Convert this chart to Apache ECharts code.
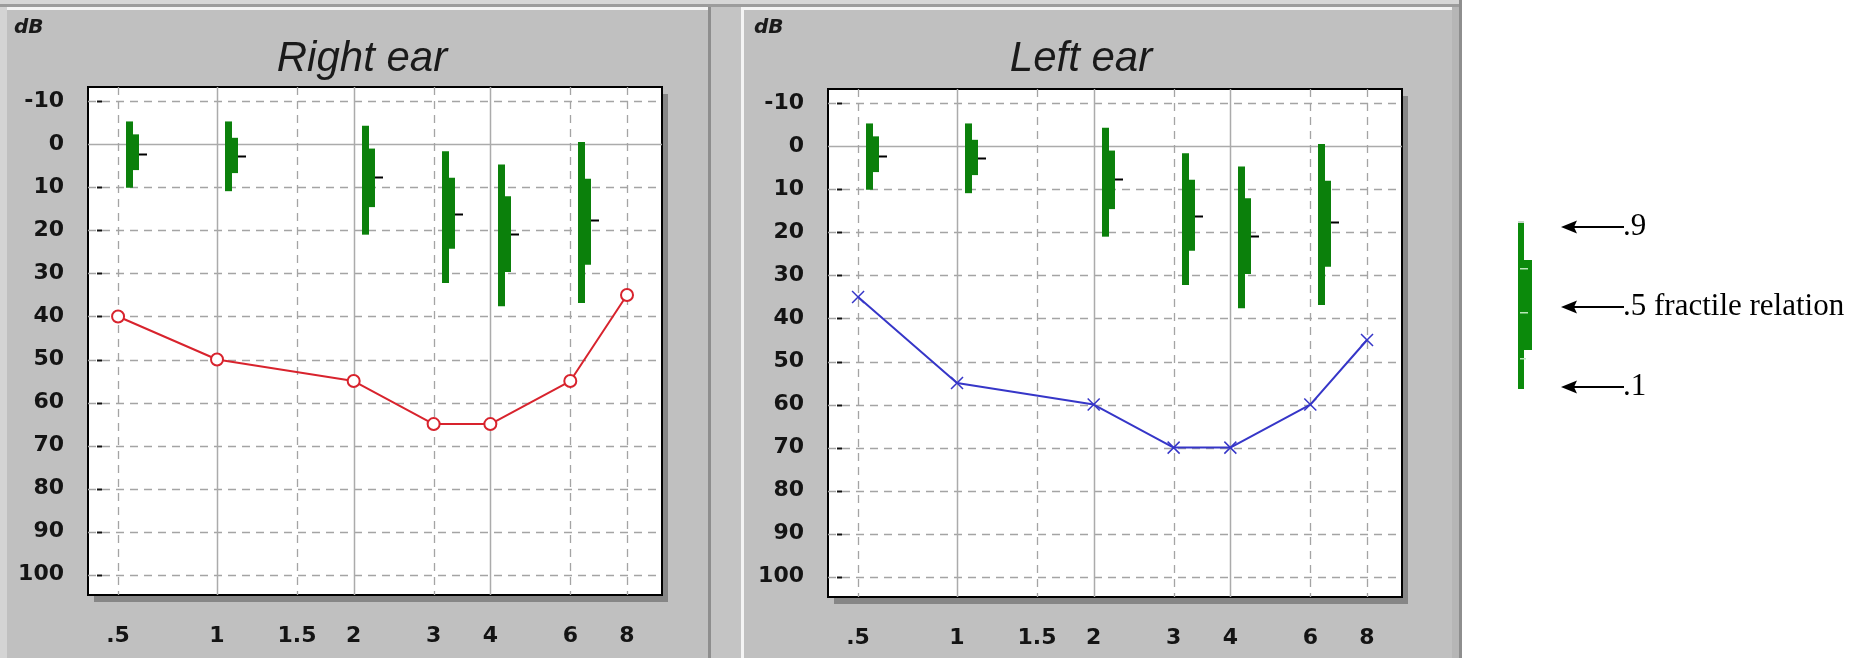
<!DOCTYPE html>
<html><head><meta charset="utf-8">
<script src="https://cdn.jsdelivr.net/npm/echarts@6/dist/echarts.min.js"></script>
<style>html,body{margin:0;padding:0;background:#fff}#c{width:1859px;height:658px}</style>
</head><body><div id="c"></div><script>
// ---- data ----
const freqLabels = ['.5', '1', '1.5', '2', '3', '4', '6', '8'];
// audiogram axis position of each frequency (octaves re 1 kHz, .5 drawn compressed as in the original)
const freqPos = [-0.724, 0, 0.585, 1, 1.585, 2, 2.585, 3];
const dbTicks = [-10, 0, 10, 20, 30, 40, 50, 60, 70, 80, 90, 100];

const thrFreqs = ['.5', '1', '2', '3', '4', '6', '8'];
const rightEar = [40, 50, 55, 65, 65, 55, 35];
const leftEar = [35, 55, 60, 70, 70, 60, 45];

const fracFreqs = ['.5', '1', '2', '3', '4', '6'];
const p90 = [-5.3, -5.3, -4.3, 1.6, 4.7, -0.5];
const p75 = [-2.3, -1.5, 1.0, 7.8, 12.1, 8.0];
const p50 = [2.2, 2.8, 7.6, 16.1, 20.9, 17.7];
const p25 = [6.0, 6.7, 14.6, 24.3, 29.7, 28.0];
const p10 = [10.1, 10.9, 21.0, 32.2, 37.6, 36.9];

const legendLabels = ['.9', '.5 fractile relation', '.1'];

// ---- helpers ----
const pos = f => freqPos[freqLabels.indexOf(f)];
const solidFreqs = ['1', '2', '4'];
const X_MIN = -0.944, X_MAX = 3.256, Y_MIN = -13.3, Y_MAX = 104.7;
const labelFont = {fontFamily: '"DejaVu Sans", Verdana, sans-serif', fontWeight: 'bold', fontSize: 22, color: '#141414'};

function hLines(gi) {
  return {
    type: 'custom', xAxisIndex: gi, yAxisIndex: gi, z: 1, silent: true,
    data: dbTicks.map(v => [0, v]), encode: {x: 0, y: 1},
    renderItem(params, api) {
      const cs = params.coordSys;
      const y = Math.round(api.coord([0, api.value(1)])[1]) + 0.5;
      const solid = api.value(1) === 0;
      const children = [{type: 'line', shape: {x1: cs.x, y1: y, x2: cs.x + cs.width, y2: y},
        style: {stroke: solid ? '#ababab' : '#a4a4a4', lineWidth: solid ? 1.5 : 1.3, lineDash: solid ? null : [8, 6]}}];
      if (!solid) children.push({type: 'line', shape: {x1: cs.x + 9, y1: y, x2: cs.x + 14, y2: y}, style: {stroke: '#111', lineWidth: 2}});
      return {type: 'group', children};
    }
  };
}
function vLines(gi) {
  return {
    type: 'custom', xAxisIndex: gi, yAxisIndex: gi, z: 1, silent: true,
    data: freqLabels.map(f => [pos(f), 0]), encode: {x: 0, y: 1},
    renderItem(params, api) {
      const cs = params.coordSys;
      const x = Math.round(api.coord([api.value(0), 0])[0]) + 0.5;
      const solid = solidFreqs.indexOf(freqLabels[params.dataIndex]) >= 0;
      return {type: 'line', shape: {x1: x, y1: cs.y, x2: x, y2: cs.y + cs.height},
        style: {stroke: solid ? '#ababab' : '#a4a4a4', lineWidth: solid ? 1.5 : 1.3, lineDash: solid ? null : [8, 6]}};
    }
  };
}
function fractiles(gi) {
  return {
    type: 'custom', xAxisIndex: gi, yAxisIndex: gi, z: 3, silent: true,
    data: fracFreqs.map((f, i) => [pos(f), p90[i], p75[i], p50[i], p25[i], p10[i]]),
    encode: {x: 0, y: [1, 5]},
    renderItem(params, api) {
      const x = Math.round(api.coord([api.value(0), 0])[0]) + 8;
      const y = k => api.coord([api.value(0), api.value(k)])[1];
      const y90 = y(1), y75 = y(2), y50 = Math.round(y(3)) + 0.5, y25 = y(4), y10 = y(5);
      return {type: 'group', children: [
        {type: 'rect', shape: {x: x, y: y90, width: 7, height: y10 - y90}, style: {fill: '#0b800b'}},
        {type: 'rect', shape: {x: x, y: y75, width: 13, height: y25 - y75}, style: {fill: '#0b800b'}},
        {type: 'line', shape: {x1: x + 13, y1: y50, x2: x + 21, y2: y50}, style: {stroke: '#000', lineWidth: 2}}
      ]};
    }
  };
}

function xAxis(gi) {
  return {
    type: 'value', gridIndex: gi, min: X_MIN, max: X_MAX,
    axisLine: {show: false}, axisTick: {show: false}, splitLine: {show: false},
    axisLabel: Object.assign({customValues: freqPos, margin: 30,
      formatter: v => { const i = freqPos.findIndex(p => Math.abs(p - v) < 1e-6); return i >= 0 ? freqLabels[i] : ''; }}, labelFont)
  };
}
function yAxis(gi) {
  return {
    type: 'value', gridIndex: gi, inverse: true, min: Y_MIN, max: Y_MAX,
    axisLine: {show: false}, axisTick: {show: false}, splitLine: {show: false},
    axisLabel: Object.assign({customValues: dbTicks, margin: 24, formatter: v => String(v)}, labelFont)
  };
}
const gridStyle = {show: true, backgroundColor: '#ffffff', borderColor: '#000', borderWidth: 2, containLabel: false};
const grids = [{left: 88, top: 87, width: 574, height: 508}, {left: 828, top: 89, width: 574, height: 508}];

// ---- decoration ----
const bg = [
  {type: 'rect', shape: {x: 0, y: 0, width: 1462, height: 658}, style: {fill: '#c0c0c0'}},
  {type: 'rect', shape: {x: 0, y: 0, width: 1462, height: 4}, style: {fill: '#d6d6d6'}},
  {type: 'rect', shape: {x: 0, y: 4, width: 1462, height: 3}, style: {fill: '#9c9c9c'}},
  {type: 'rect', shape: {x: 0, y: 7, width: 1462, height: 3}, style: {fill: '#f4f4f4'}},
  {type: 'rect', shape: {x: 0, y: 7, width: 7, height: 651}, style: {fill: '#d4d4d4'}},
  {type: 'rect', shape: {x: 708, y: 7, width: 3, height: 651}, style: {fill: '#8e8e8e'}},
  {type: 'rect', shape: {x: 711, y: 7, width: 30, height: 651}, style: {fill: '#c4c4c4'}},
  {type: 'rect', shape: {x: 741, y: 7, width: 3, height: 651}, style: {fill: '#f4f4f4'}},
  {type: 'rect', shape: {x: 1452, y: 7, width: 8, height: 651}, style: {fill: '#b6b6b6'}},
  {type: 'rect', shape: {x: 1459, y: 0, width: 3, height: 658}, style: {fill: '#8e8e8e'}}
].map(e => Object.assign(e, {z: -10, silent: true}));
// drop shadows behind the two plot frames
grids.forEach(g => bg.push({type: 'rect', z: -5, silent: true,
  shape: {x: g.left + 6, y: g.top + 7, width: g.width, height: g.height}, style: {fill: '#868686'}}));

const texts = [
  {x: 14, y: 28, text: 'dB', font: 'italic bold 20px "DejaVu Sans", Verdana'},
  {x: 754, y: 28, text: 'dB', font: 'italic bold 20px "DejaVu Sans", Verdana'},
  {x: 362, y: 59, text: 'Right ear', font: 'italic 42px "Liberation Sans", Arial', align: 'center'},
  {x: 1081, y: 59, text: 'Left ear', font: 'italic 42px "Liberation Sans", Arial', align: 'center'}
].map(t => ({type: 'text', x: t.x, y: t.y, z: 5, silent: true,
  style: {text: t.text, font: t.font, fill: '#1a1a1a', align: t.align || 'left', verticalAlign: 'middle'}}));

// legend glyph explaining the fractile bars
const legY = [227, 307, 387];
const legend = [
  {type: 'rect', shape: {x: 1518, y: 222, width: 6, height: 167}, style: {fill: '#0b8a0b'}},
  {type: 'rect', shape: {x: 1518, y: 260, width: 14, height: 90}, style: {fill: '#0b8a0b'}},
  {type: 'rect', shape: {x: 1518, y: 221, width: 6, height: 2}, style: {fill: '#c8d8c8'}},
  {type: 'rect', shape: {x: 1520, y: 268, width: 8, height: 1.5}, style: {fill: '#b8e8b8'}},
  {type: 'rect', shape: {x: 1520, y: 312, width: 8, height: 1.5}, style: {fill: '#b8e8b8'}},
  {type: 'rect', shape: {x: 1520, y: 358, width: 6, height: 1.5}, style: {fill: '#b8e8b8'}}
];
legY.forEach((y, i) => {
  legend.push({type: 'line', shape: {x1: 1572, y1: y, x2: 1624, y2: y}, style: {stroke: '#000', lineWidth: 2}});
  legend.push({type: 'polygon', shape: {points: [[1561, y], [1577, y - 6.5], [1574, y], [1577, y + 6.5]]}, style: {fill: '#000'}});
  legend.push({type: 'text', x: 1623, y: y, style: {text: legendLabels[i], font: '31px "Liberation Serif", "Times New Roman", serif', fill: '#000', verticalAlign: 'middle'}});
});
legend.forEach(e => { e.z = 5; e.silent = true; });

// ---- chart ----
const chart = echarts.init(document.getElementById('c'));
chart.setOption({
  animation: false,
  backgroundColor: '#ffffff',
  graphic: {elements: bg.concat(texts, legend)},
  grid: grids.map(g => Object.assign({}, g, gridStyle)),
  xAxis: [xAxis(0), xAxis(1)],
  yAxis: [yAxis(0), yAxis(1)],
  series: [
    hLines(0), vLines(0), fractiles(0),
    {type: 'line', name: 'Right ear', xAxisIndex: 0, yAxisIndex: 0, z: 4,
     data: thrFreqs.map((f, i) => [pos(f), rightEar[i]]),
     symbol: 'emptyCircle', symbolSize: 12, showAllSymbol: true,
     itemStyle: {color: '#d8232d', borderWidth: 1.5},
     lineStyle: {color: '#d8232d', width: 2}},
    hLines(1), vLines(1), fractiles(1),
    {type: 'line', name: 'Left ear', xAxisIndex: 1, yAxisIndex: 1, z: 4,
     data: thrFreqs.map((f, i) => [pos(f), leftEar[i]]),
     symbol: 'path://M0,0L10,10M10,0L0,10', symbolSize: 12, showAllSymbol: true,
     itemStyle: {color: 'rgba(0,0,0,0)', borderColor: '#3636c8', borderWidth: 1.5},
     lineStyle: {color: '#3636c8', width: 2}}
  ]
});
</script></body></html>
